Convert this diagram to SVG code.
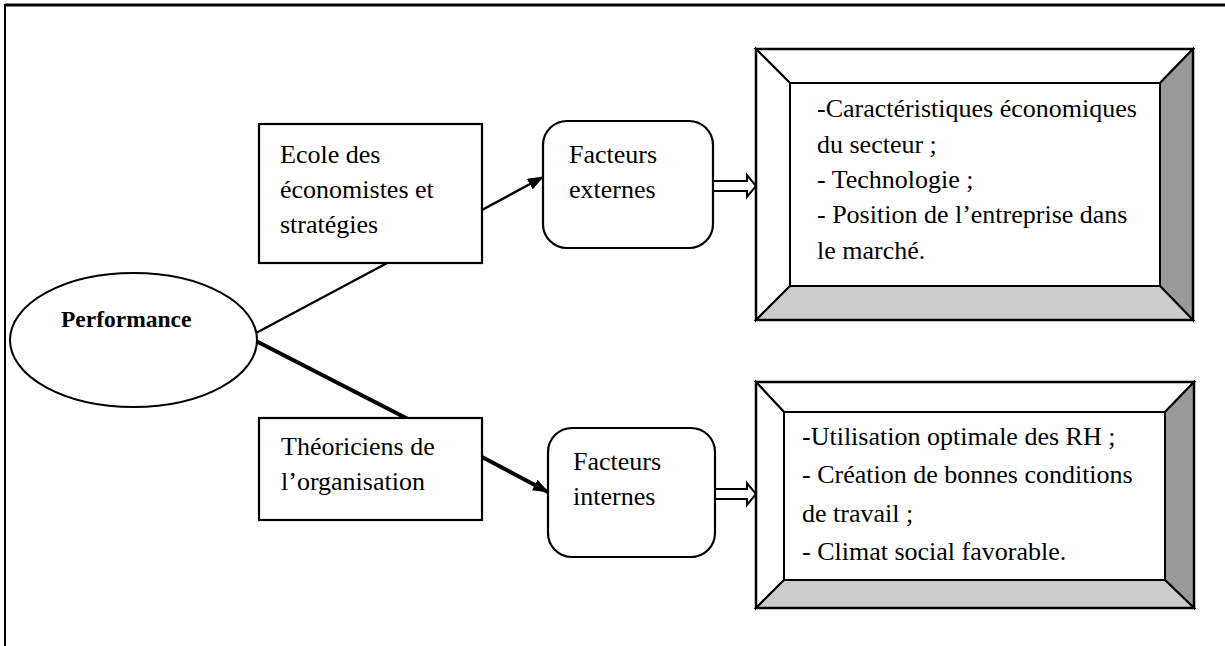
<svg xmlns="http://www.w3.org/2000/svg" width="1225" height="646" viewBox="0 0 1225 646">
<style>
text{font-family:"Liberation Serif","Times New Roman",serif;font-size:26px;fill:#000}
.b{font-weight:bold;font-size:23.5px}
.box{fill:#fff;stroke:#000;stroke-width:2.2}
.bev{stroke:#000;stroke-width:2}
.ln{stroke:#000;fill:none}
</style>
<defs>
<marker id="ah" viewBox="0 0 16 12" refX="15" refY="6" markerWidth="16" markerHeight="12" markerUnits="userSpaceOnUse" orient="auto"><path d="M0,0 L16,6 L0,12 z" fill="#000"/></marker>
</defs>
<rect width="1225" height="646" fill="#fff"/>
<g id="frame">
<line x1="5" y1="5" x2="1225" y2="5" stroke="#000" stroke-width="3"/>
<line x1="5" y1="4" x2="5" y2="646" stroke="#000" stroke-width="2"/>
</g>
<g id="connectors">
<line class="ln" x1="256" y1="333" x2="389" y2="262" stroke-width="2.2"/>
<line class="ln" x1="256" y1="341" x2="408" y2="419" stroke-width="4"/>
<line class="ln" x1="482" y1="210" x2="543" y2="177" stroke-width="2.5" marker-end="url(#ah)"/>
<line class="ln" x1="482" y1="457" x2="548" y2="492" stroke-width="4" marker-end="url(#ah)"/>
<polygon points="713,181 747,181 747,175 756,186 747,197 747,191 713,191" fill="#fff" stroke="#000" stroke-width="2"/>
<polygon points="715,489 747,489 747,483 756,494 747,505 747,499 715,499" fill="#fff" stroke="#000" stroke-width="2"/>
</g>
<g id="performance">
<ellipse cx="133.5" cy="340" rx="123.5" ry="67" fill="#fff" stroke="#000" stroke-width="2"/>
<text class="b" x="61" y="327">Performance</text>
</g>
<g id="ecole">
<rect class="box" x="259" y="124" width="223" height="139"/>
<text x="280" y="163">Ecole des</text>
<text x="280" y="198">économistes et</text>
<text x="280" y="233">stratégies</text>
</g>
<g id="externes">
<rect class="box" x="543" y="121" width="170" height="127" rx="24"/>
<text x="569" y="163">Facteurs</text>
<text x="569" y="198">externes</text>
</g>
<g id="theoriciens">
<rect class="box" x="259" y="418" width="223" height="102"/>
<text x="281" y="455">Théoriciens de</text>
<text x="281" y="490">l’organisation</text>
</g>
<g id="internes">
<rect class="box" x="548" y="428" width="167" height="129" rx="24"/>
<text x="573" y="470">Facteurs</text>
<text x="573" y="505">internes</text>
</g>
<g id="ext-list">
<polygon class="bev" points="756,49 1193,49 1160,83 790,83" fill="#fff"/>
<polygon class="bev" points="756,49 790,83 790,286 756,320" fill="#fff"/>
<polygon class="bev" points="1193,49 1193,320 1160,286 1160,83" fill="#999"/>
<polygon class="bev" points="756,320 790,286 1160,286 1193,320" fill="#ccc"/>
<rect x="756" y="49" width="437" height="271" fill="none" stroke="#000" stroke-width="2.5"/>
<text x="817" y="117">-Caractéristiques économiques</text>
<text x="817" y="153">du secteur ;</text>
<text x="817" y="188">- Technologie ;</text>
<text x="817" y="223">- Position de l’entreprise dans</text>
<text x="817" y="259">le marché.</text>
</g>
<g id="int-list">
<polygon class="bev" points="756,382 1194,382 1165,412 784,412" fill="#fff"/>
<polygon class="bev" points="756,382 784,412 784,580 756,608" fill="#fff"/>
<polygon class="bev" points="1194,382 1194,608 1165,580 1165,412" fill="#999"/>
<polygon class="bev" points="756,608 784,580 1165,580 1194,608" fill="#ccc"/>
<rect x="756" y="382" width="438" height="226" fill="none" stroke="#000" stroke-width="2.5"/>
<text x="802" y="445">-Utilisation optimale des RH ;</text>
<text x="802" y="483">- Création de bonnes conditions</text>
<text x="802" y="522">de travail ;</text>
<text x="802" y="560">- Climat social favorable.</text>
</g>
</svg>
